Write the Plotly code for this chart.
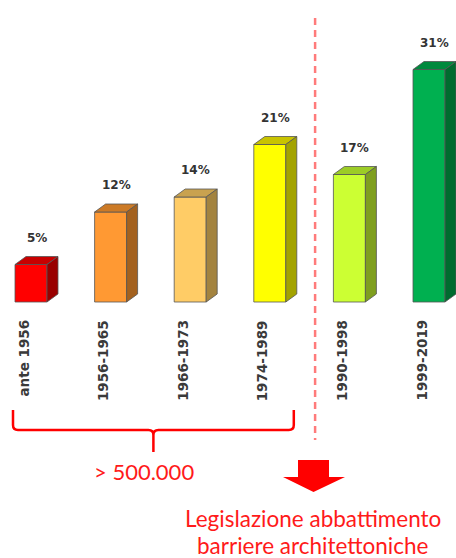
import plotly.graph_objects as go

# ---- data ----
categories = ["ante 1956", "1956-1965", "1966-1973", "1974-1989", "1990-1998", "1999-2019"]
values = [5, 12, 14, 21, 17, 31]
value_labels = ["5%", "12%", "14%", "21%", "17%", "31%"]
front_colors = ["#ff0000", "#ff9933", "#ffcc66", "#ffff00", "#ccff33", "#00b050"]
top_colors = ["#c80000", "#cc7a26", "#c9a24f", "#c8c300", "#9ccc26", "#00893d"]
side_colors = ["#990000", "#a3611f", "#a3833f", "#a3a300", "#7f9f1f", "#006b2f"]
group_label = "> 500.000"
law_lines = ["Legislazione abbattimento", "barriere architettoniche"]

# ---- geometry (layout constants) ----
W, H = 456, 558
PX_CAT = 79.6      # pixels per category step
PX_PCT = 7.5       # pixels per percentage point
X0_PX = 31         # pixel x of first bar centre
Y0_PX = 302        # pixel y of baseline
BAR_W = 32 / PX_CAT
DX = 11 / PX_CAT   # depth offset (x)
DY = 8 / PX_PCT    # depth offset (y)

def px_x(p):
    return (p - X0_PX) / PX_CAT

def px_y(p):
    return (Y0_PX - p) / PX_PCT

xs = list(range(len(categories)))
fig = go.Figure()

# front faces
fig.add_trace(go.Bar(
    x=xs, y=values, width=BAR_W,
    marker=dict(color=front_colors, line=dict(color="#555555", width=0.8)),
    hoverinfo="skip", showlegend=False,
))

# top and side faces
for x, v, tc, sc in zip(xs, values, top_colors, side_colors):
    l, r = x - BAR_W / 2, x + BAR_W / 2
    fig.add_trace(go.Scatter(
        x=[l, l + DX, r + DX, r, l], y=[v, v + DY, v + DY, v, v],
        fill="toself", fillcolor=tc, mode="lines",
        line=dict(color="#555555", width=0.8), hoverinfo="skip", showlegend=False))
    fig.add_trace(go.Scatter(
        x=[r, r, r + DX, r + DX, r], y=[0, v, v + DY, DY, 0],
        fill="toself", fillcolor=sc, mode="lines",
        line=dict(color="#555555", width=0.8), hoverinfo="skip", showlegend=False))

annotations = []
for x, v, lab, cat in zip(xs, values, value_labels, categories):
    annotations.append(dict(
        x=x + DX / 2, y=v + DY, text=lab, showarrow=False,
        xanchor="center", yanchor="bottom", yshift=10,
        font=dict(family="DejaVu Sans", size=12, color="#333333", weight="bold")))
    annotations.append(dict(
        x=x, y=0, text=cat, showarrow=False, textangle=-90,
        xanchor="center", yanchor="top", yshift=-16, xshift=-8,
        font=dict(family="DejaVu Sans", size=13.5, color="#3a3a3a", weight="bold")))

annotations.append(dict(
    x=px_x(144), y=px_y(471), text=group_label, showarrow=False,
    xanchor="center", yanchor="middle",
    font=dict(family="Lato", size=22, color="#ff1a1a")))
for line_txt, cy in zip(law_lines, [518, 545]):
    annotations.append(dict(
        x=px_x(313), y=px_y(cy), text=line_txt, showarrow=False,
        xanchor="center", yanchor="middle",
        font=dict(family="Lato", size=22.5, color="#ff1a1a")))

# separator dashed line between 1974-1989 and 1990-1998
sep_x = 3.5 + DX / 2
shapes = [dict(
    type="line", xref="x", yref="y", x0=sep_x, x1=sep_x, y0=px_y(18), y1=px_y(440),
    line=dict(color="#ff7b7b", width=2.5, dash="7px,5px"))]

# brace under the first four bars
bx0 = xs[0] - BAR_W / 2 - 2 / PX_CAT
bx1 = xs[3] + BAR_W / 2 + DX - 3 / PX_CAT
bxm = (bx0 + bx1) / 2
yt, yh, yp = px_y(410), px_y(430), px_y(452)
rx, ry = 5 / PX_CAT, 5 / PX_PCT
path = (f"M {bx0},{yt} L {bx0},{yh + ry} Q {bx0},{yh} {bx0 + rx},{yh} "
        f"L {bxm - rx},{yh} Q {bxm},{yh} {bxm},{yh - ry} L {bxm},{yp} "
        f"M {bxm},{yh - ry} Q {bxm},{yh} {bxm + rx},{yh} "
        f"L {bx1 - rx},{yh} Q {bx1},{yh} {bx1},{yh + ry} L {bx1},{yt}")
shapes.append(dict(type="path", xref="x", yref="y", path=path,
                   line=dict(color="#ff0000", width=2.5)))

# downward arrow
ax_l, ax_r = px_x(298), px_x(329)
ah_l, ah_r, ax_m = px_x(283), px_x(345), px_x(313.5)
ay_t, ay_n, ay_p = px_y(460), px_y(477), px_y(492)
arrow = (f"M {ax_l},{ay_t} L {ax_r},{ay_t} L {ax_r},{ay_n} L {ah_r},{ay_n} "
         f"L {ax_m},{ay_p} L {ah_l},{ay_n} L {ax_l},{ay_n} Z")
shapes.append(dict(type="path", xref="x", yref="y", path=arrow,
                   fillcolor="#ff0000", line=dict(width=0)))

fig.update_layout(
    width=W, height=H, margin=dict(l=0, r=0, t=0, b=0),
    paper_bgcolor="white", plot_bgcolor="white",
    xaxis=dict(range=[px_x(0), px_x(W)], visible=False, fixedrange=True),
    yaxis=dict(range=[px_y(H), px_y(0)], visible=False, fixedrange=True),
    annotations=annotations, shapes=shapes, showlegend=False,
)

fig.write_html("out.html")
